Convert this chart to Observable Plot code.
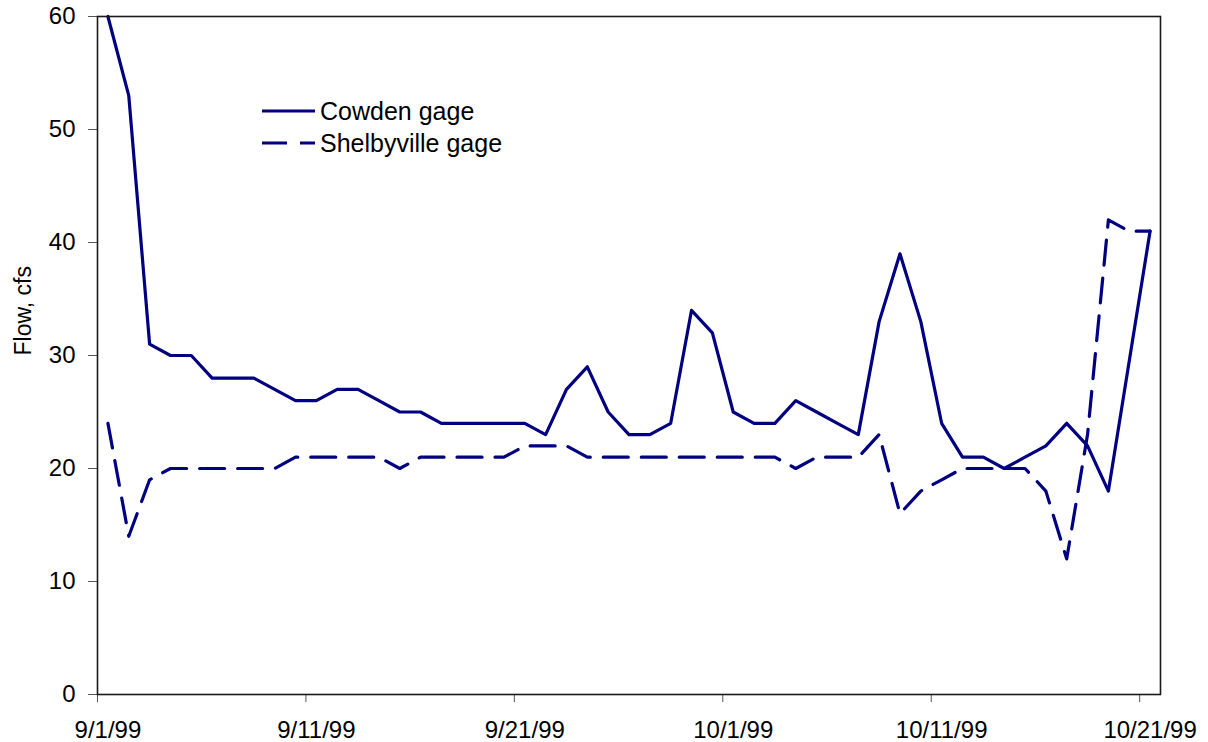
<!DOCTYPE html>
<html>
<head>
<meta charset="utf-8">
<script src="https://cdn.jsdelivr.net/npm/d3@7"></script>
<script src="https://cdn.jsdelivr.net/npm/@observablehq/plot@0.6"></script>
<style>
  html, body { margin: 0; padding: 0; background: #fff; }
  #chart svg { display: block; }
</style>
</head>
<body>
<div id="chart"></div>
<script>
// Daily mean flow, 9/1/99 through 10/21/99 (one entry per day; null = no record)
const startDay = new Date(Date.UTC(1999, 8, 1));
const endDay = new Date(Date.UTC(1999, 9, 22));
const days = d3.utcDay.range(startDay, endDay);

const cowden = [
  60, 53, 31, 30, 30, 28, 28, 28, 27, 26,
  26, 27, 27, 26, 25, 25, 24, 24, 24, 24,
  24, 23, 27, 29, 25, 23, 23, 24, 34, 32,
  25, 24, 24, 26, 25, 24, 23, 33, 39, 33,
  24, 21, 21, 20, 21, 22, 24, 22, 18, null,
  41
];

const shelbyville = [
  24, 14, 19, 20, 20, 20, 20, 20, 20, 21,
  21, 21, 21, 21, 20, 21, 21, 21, 21, 21,
  22, 22, 22, 21, 21, 21, 21, 21, 21, 21,
  21, 21, 21, 20, 21, 21, 21, 23, 16, 18,
  19, 20, 20, 20, 20, 18, 12, 23, 42, 41,
  41
];

const seriesNames = ["Cowden gage", "Shelbyville gage"];
const xTicks = ["1999-09-01", "1999-09-11", "1999-09-21", "1999-10-01", "1999-10-11", "1999-10-21"].map(d => new Date(d + "T00:00:00Z"));
const yTicks = [0, 10, 20, 30, 40, 50, 60];

const navy = "#000080";
const W = 1208, H = 742;
const mL = 97, mR = 48, mT = 16, mB = 48;

// each day occupies one slot on the date axis; values sit in the middle of it
const rowsFor = values => days
  .map((d, i) => ({date: d, mid: d3.utcHour.offset(d, 12), value: values[i]}))
  .filter(r => r.value != null);

const halfDayPx = (W - mL - mR) / days.length / 2;
const fmt = d3.utcFormat("%-m/%-d/%y");

const chart = Plot.plot({
  width: W,
  height: H,
  marginLeft: mL,
  marginRight: mR,
  marginTop: mT,
  marginBottom: mB,
  style: {fontFamily: "'Liberation Sans', Arial, sans-serif", fontSize: "24px", color: "#000", background: "#fff"},
  x: {type: "utc", domain: [startDay, endDay]},
  y: {domain: [0, 60]},
  marks: [
    Plot.axisY({ticks: yTicks, tickSize: 9, tickPadding: 13, fontSize: 24, label: null, stroke: "#555", fill: "#000"}),
    Plot.axisX({ticks: xTicks, tickSize: 8, tickFormat: () => "", label: null, stroke: "#555"}),
    Plot.axisX({ticks: xTicks, tickSize: 0, tickPadding: 26, dx: halfDayPx, tickFormat: fmt, fontSize: 24, label: null, fill: "#000"}),
    Plot.text(["Flow, cfs"], {frameAnchor: "left", rotate: -90, dx: -74, fontSize: 23, fill: "#000"}),
    Plot.line(rowsFor(shelbyville), {x: "mid", y: "value", stroke: navy, strokeWidth: 3.2, strokeDasharray: "25,13"}),
    Plot.line(rowsFor(cowden), {x: "mid", y: "value", stroke: navy, strokeWidth: 3.2}),
    Plot.frame({stroke: "#1a1a1a", strokeWidth: 1.6})
  ]
});

// legend inside the plot area
const legend = d3.select(chart).append("g")
  .attr("font-family", "'Liberation Sans', Arial, sans-serif")
  .attr("font-size", 25)
  .attr("text-anchor", "start");
const legendItems = [
  {name: seriesNames[0], y: 111, dash: null},
  {name: seriesNames[1], y: 143, dash: "25,13"}
];
for (const item of legendItems) {
  legend.append("line")
    .attr("x1", 262).attr("x2", 315)
    .attr("y1", item.y).attr("y2", item.y)
    .attr("stroke", navy).attr("stroke-width", 3.2)
    .attr("stroke-dasharray", item.dash);
  legend.append("text")
    .attr("x", 320).attr("y", item.y)
    .attr("dy", "0.35em")
    .attr("fill", "#000")
    .text(item.name);
}

document.getElementById("chart").appendChild(chart);
</script>
</body>
</html>
